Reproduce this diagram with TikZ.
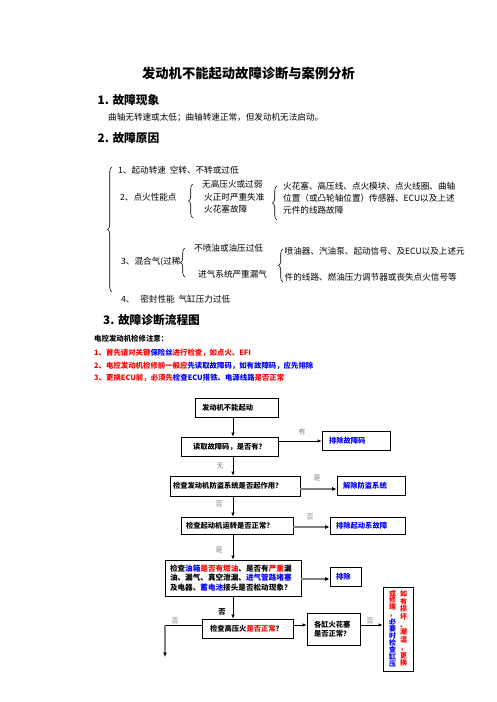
\documentclass[tikz,border=0pt]{standalone}
\usepackage{fontspec}
\setmainfont{Noto Sans CJK SC}
\usetikzlibrary{decorations.pathreplacing,arrows.meta}
\definecolor{pr}{RGB}{255,0,0}
\definecolor{pb}{RGB}{0,0,255}
\definecolor{lg}{RGB}{128,128,128}
\newcommand\rtx[1]{\textcolor{pr}{#1}}
\newcommand\btx[1]{\textcolor{pb}{#1}}
\begin{document}
\begin{tikzpicture}[x=1pt,y=-1pt,
  txt/.style={anchor=west,inner sep=0pt,font=\fontsize{8.6}{10.3}\selectfont},
  head/.style={anchor=west,inner sep=0pt,font=\bfseries\fontsize{11.7}{14}\selectfont},
  note/.style={anchor=west,inner sep=0pt,font=\bfseries\fontsize{7.4}{9}\selectfont},
  brc/.style={decorate,decoration={brace,amplitude=4.5pt},line width=0.6pt},
  fb/.style={draw,line width=0.8pt,inner ysep=0pt,align=left,font=\bfseries\fontsize{7.3}{9.3}\selectfont},
  lab/.style={inner sep=0pt,text=lg,font=\fontsize{7}{8}\selectfont},
  arr/.style={-{Latex[length=4pt,width=3.5pt]},line width=0.7pt},
  garr/.style={-{Latex[length=4.5pt,width=4pt,color=black]},line width=1.8pt,draw=lg}]
\useasboundingbox[fill=white] (0,0) rectangle (496,702);

% title and headings
\node[inner sep=0pt,font=\bfseries\fontsize{13.3}{16}\selectfont] (title) at (248.5,73) {发动机不能起动故障诊断与案例分析};
\node[head] (h1) at (97.5,100) {1. 故障现象};
\node[txt] (p1) at (108,118) {曲轴无转速或太低；曲轴转速正常，但发动机无法启动。};
\node[head] (h2) at (97.5,138) {2. 故障原因};

% causes
\draw[brc] (112,292) -- (112,167);
\node[txt] (c1) at (118,170) {1、起动转速\ \ 空转、不转或过低};
\node[txt] (c2) at (120,197) {2、点火性能点};
\draw[brc] (193,218) -- (193,184);
\node[txt] (c21) at (202,184) {无高压火或过弱};
\node[txt] (c22) at (204,197) {火正时严重失准};
\node[txt] (c23) at (204,209) {火花塞故障};
\draw[brc] (277,220) -- (277,186);
\node[txt] (c24) at (283,186) {火花塞、高压线、点火模块、点火线圈、曲轴};
\node[txt] (c25) at (283,198.5) {位置（或凸轮轴位置）传感器、ECU以及上述};
\node[txt] (c26) at (283,210) {元件的线路故障};
\node[txt] (c3) at (121,262) {3、混合气(过稀};
\draw[brc] (185,277) -- (185,248);
\node[txt] (c31) at (194,248) {不喷油或油压过低};
\node[txt] (c32) at (198,274) {进气系统严重漏气};
\draw[brc] (283,282) -- (283,249);
\node[txt] (c33) at (284.5,251) {喷油器、汽油泵、起动信号、及ECU以及上述元};
\node[txt] (c34) at (284.5,277) {件的线路、燃油压力调节器或丧失点火信号等};
\node[txt] (c4) at (121,299) {4、\ \ \ 密封性能\ \ 气缸压力过低};

% flowchart heading and notes
\node[head] (h3) at (103,320) {3. 故障诊断流程图};
\node[note] (n0) at (94,339) {电控发动机检修注意：};
\node[note,text=pr] (n1) at (94,353) {1、首先请对关键\btx{保险丝}进行检查，如点火、EFI};
\node[note,text=pr] (n2) at (94,365.5) {2、电控发动机检修前一般应\btx{先读取故障码，如有故障码，应先排除}};
\node[note,text=pr] (n3) at (94,378) {3、更换ECU前，必须先\btx{检查ECU搭铁、电源线路}是否正常};

% flowchart
\coordinate (col) at (233,0);
\node[fb,inner xsep=7pt,text width=69pt,minimum height=19pt] (b1) at (236.5,407.5) {发动机不能起动};
\node[fb,inner xsep=12pt,text width=73pt,minimum height=19pt] (b2) at (229.5,446.5) {读取故障码，是否有？};
\node[fb,inner xsep=7pt,text width=54pt,minimum height=19pt,text=pb] (r1) at (356,441) {排除故障码};
\node[fb,inner xsep=3pt,text width=124pt,minimum height=20pt] (b3) at (235,486) {检查发动机防盗系统是否起作用？};
\node[fb,inner xsep=6pt,text width=56pt,minimum height=19pt,text=pb] (r2) at (371,486) {解除防盗系统};
\node[fb,inner xsep=5pt,text width=102pt,minimum height=17pt] (b4) at (237,525.5) {检查起动机运转是否正常？};
\node[fb,inner xsep=6pt,text width=63pt,minimum height=17pt,text=pb] (r3) at (367.5,525.5) {排除起动系故障};
\node[fb,inner xsep=5pt,text width=126pt,minimum height=36pt,font=\bfseries\fontsize{7.6}{9.3}\selectfont] (b5) at (233,578) {检查\btx{油箱}\rtx{是否有燃油}、是否有\rtx{严重}漏\\油、漏气、真空泄漏、\btx{进气管路堵塞}\\及电器、\btx{蓄电池}接头是否松动现象？};
\node[fb,inner xsep=6pt,text width=19pt,minimum height=19pt,text=pb] (r4) at (345.5,577) {排除};
\node[fb,inner xsep=8pt,text width=75pt,minimum height=19pt] (b6) at (247.5,628.5) {检查高压火\rtx{是否正常}？};
\node[fb,inner xsep=7pt,text width=39pt,minimum height=32pt] (b7) at (333.5,629) {各缸火花塞\\是否正常？};
\node[draw,line width=0.8pt,minimum width=30pt,minimum height=84pt,inner sep=0pt] (rv) at (398,629) {};
\node[inner sep=0pt,align=center,text=pr,font=\bfseries\fontsize{7}{7.7}\selectfont] (vr) at (403.5,628.5) {如\\有\\损\\坏\\、\\潮\\湿\\，\\更\\换};
\node[inner sep=0pt,align=center,font=\bfseries\fontsize{6.9}{6.9}\selectfont] (vl) at (392.5,628.5) {\rtx{或}\\\rtx{修}\\\rtx{理}\\\rtx{，}\\\btx{必}\\\btx{要}\\\btx{时}\\\btx{检}\\\btx{查}\\\btx{缸}\\\btx{压}};

\draw[arr] (b1.south -| col) -- (b2.north -| col);
\draw[arr] (r1.west -| b2.east) -- (r1.west);
\node[lab] (l1) at (302,432) {有};
\draw[arr] (b2.south -| col) -- (b3.north -| col);
\node[lab] (l2) at (220,466) {无};
\draw[garr] (b3.east |- 0,489) -- (r2.west |- 0,489);
\node[lab] (l3) at (317,478) {是};
\draw[arr] (b3.south -| col) -- (b4.north -| col);
\node[lab] (l4) at (219,504) {否};
\draw[garr] (b4.east |- 0,527) -- (r3.west |- 0,527);
\node[lab] (l5) at (310,517) {否};
\draw[arr] (b4.south -| col) -- (b5.north -| col);
\node[lab] (l6) at (219,550) {是};
\draw[garr] (b5.east |- 0,579) -- (r4.west |- 0,579);
\draw[arr] (b5.south -| col) -- (b6.north -| col);
\node[inner sep=0pt,font=\bfseries\fontsize{7.3}{8}\selectfont] (l7) at (222,612) {否};
\draw[arr] (b6.east |- 0,625) -- (b7.west |- 0,625);
\draw[arr] (b7.east |- 0,625) -- (rv.west |- 0,625);
\node[lab] (l8) at (370,621) {否};
\coordinate (lc) at (165,657);
\draw[line width=0.7pt] (b6.west |- 0,625) -- (lc |- 0,625);
\draw[garr] (lc |- 0,624.5) -- (lc);
\node[lab] (l9) at (175,621) {否};
\end{tikzpicture}
\end{document}
